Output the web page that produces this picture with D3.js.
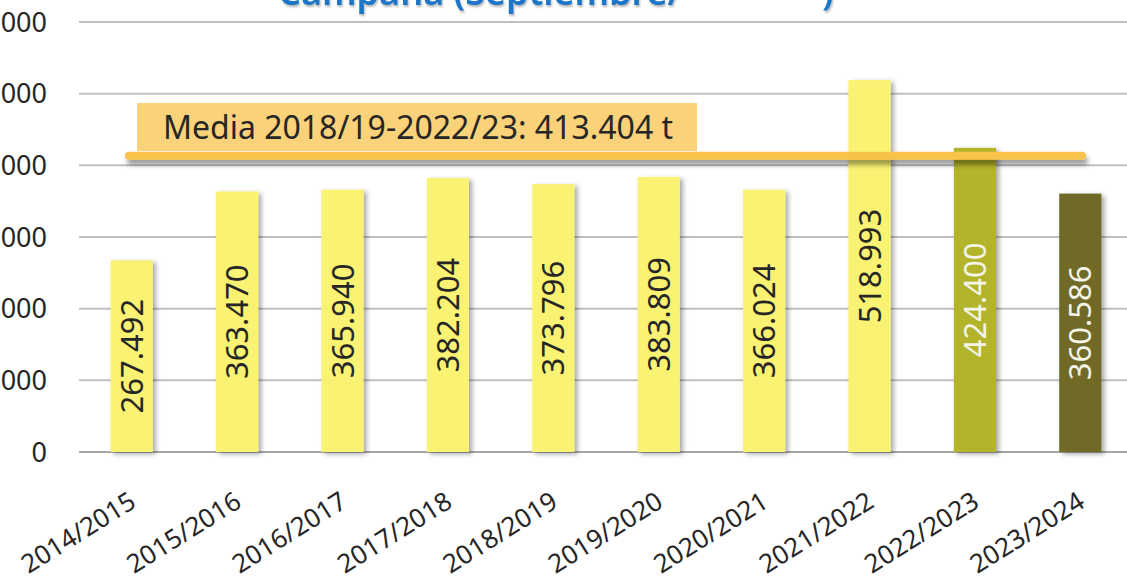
<!DOCTYPE html>
<meta charset="utf-8">
<style>
body { margin: 0; background: #fff; }
svg { display: block; font-family: "Noto Sans", sans-serif; }
</style>
<svg width="1127" height="580"></svg>
<script src="https://d3js.org/d3.v7.min.js"></script>
<script>

// datos de la campaña
var campanas = ["2014/2015", "2015/2016", "2016/2017", "2017/2018", "2018/2019",
                "2019/2020", "2020/2021", "2021/2022", "2022/2023", "2023/2024"];
var produccion = [267492, 363470, 365940, 382204, 373796, 383809, 366024, 518993, 424400, 360586];
var yTicks = [0, 100000, 200000, 300000, 400000, 500000, 600000];
var media = 413404;
var mediaTexto = "Media 2018/19-2022/23: 413.404 t";
var titulo = ["Campaña (Septiembre/", ")"];

var svg = d3.select("svg");

var es = d3.formatLocale({decimal: ",", thousands: ".", grouping: [3], currency: ["", " €"]});
var fmt = es.format(",d");

var x = d3.scaleBand()
    .domain(campanas)
    .range([79, 1133])
    .paddingInner(0.6)
    .paddingOuter(0.3);

var y = d3.scaleLinear()
    .domain([0, 600000])
    .range([452, 22]);

// colores: amarillo para campañas cerradas, verdes para las dos últimas
var color = d3.scaleOrdinal()
    .domain(campanas)
    .range(campanas.map(function(d, i) {
      return i === 8 ? "#b3b42b" : i === 9 ? "#6f6b25" : "#faf273";
    }));

var defs = svg.append("defs");
var sh = defs.append("filter").attr("id", "sombra")
    .attr("x", "-30%").attr("y", "-10%").attr("width", "170%").attr("height", "130%");
sh.append("feDropShadow").attr("dx", 3).attr("dy", 2).attr("stdDeviation", 2.5)
    .attr("flood-color", "#000").attr("flood-opacity", 0.35);

// la línea no tiene alto, así que la región del filtro va en coordenadas de usuario
var sh2 = defs.append("filter").attr("id", "sombraLinea")
    .attr("filterUnits", "userSpaceOnUse")
    .attr("x", 100).attr("y", 130).attr("width", 1020).attr("height", 60);
sh2.append("feDropShadow").attr("dx", 2).attr("dy", 5).attr("stdDeviation", 2.5)
    .attr("flood-color", "#000").attr("flood-opacity", 0.4);

var shT = defs.append("filter").attr("id", "sombraTexto")
    .attr("x", "-5%").attr("y", "-50%").attr("width", "110%").attr("height", "200%");
shT.append("feDropShadow").attr("dx", 1).attr("dy", 2).attr("stdDeviation", 1.2)
    .attr("flood-color", "#000").attr("flood-opacity", 0.3);

// título (cortado por arriba)
var t = svg.append("text")
    .attr("x", 278)
    .attr("y", 5)
    .attr("font-size", 36)
    .attr("font-weight", 600)
    .attr("fill", "#1b75c6")
    .attr("filter", "url(#sombraTexto)");
t.append("tspan").text(titulo[0]);
t.append("tspan").attr("x", 822).text(titulo[1]);

// rejilla
svg.append("g")
  .selectAll("line")
  .data(yTicks)
  .enter().append("line")
    .attr("x1", 79)
    .attr("x2", 1127)
    .attr("y1", function(d) { return y(d); })
    .attr("y2", function(d) { return y(d); })
    .attr("stroke", function(d) { return d === 0 ? "#a6a6a6" : "#bfbfbf"; })
    .attr("stroke-width", 2);

// etiquetas eje Y
svg.append("g")
  .selectAll("text")
  .data(yTicks)
  .enter().append("text")
    .attr("x", 47)
    .attr("y", function(d) { return y(d); })
    .attr("dy", "0.36em")
    .attr("text-anchor", "end")
    .attr("font-size", 27)
    .attr("fill", "#262626")
    .text(function(d) { return fmt(d); });

// barras
svg.append("g")
  .selectAll("rect")
  .data(campanas)
  .enter().append("rect")
    .attr("x", function(d) { return x(d); })
    .attr("y", function(d, i) { return y(produccion[i]); })
    .attr("width", x.bandwidth())
    .attr("height", function(d, i) { return y(0) - y(produccion[i]); })
    .attr("fill", color)
    .attr("filter", "url(#sombra)");

// línea de la media
svg.append("line")
    .attr("x1", 129)
    .attr("x2", 1082)
    .attr("y1", y(media))
    .attr("y2", y(media))
    .attr("stroke", "#f9c24a")
    .attr("stroke-width", 8)
    .attr("stroke-linecap", "round")
    .attr("filter", "url(#sombraLinea)");

// caja con el texto de la media
svg.append("rect")
    .attr("x", 137)
    .attr("y", 103)
    .attr("width", 560)
    .attr("height", 48)
    .attr("fill", "#f9d27a");

svg.append("text")
    .attr("x", 418)
    .attr("y", 127)
    .attr("dy", "0.36em")
    .attr("text-anchor", "middle")
    .attr("font-size", 32)
    .attr("fill", "#262626")
    .text(mediaTexto);

// valores dentro de las barras
svg.append("g")
  .selectAll("text")
  .data(campanas)
  .enter().append("text")
    .attr("transform", function(d, i) {
      var cx = x(d) + x.bandwidth() / 2,
          cy = (y(produccion[i]) + y(0)) / 2;
      return "translate(" + cx + "," + cy + ") rotate(-90)";
    })
    .attr("dy", "0.36em")
    .attr("text-anchor", "middle")
    .attr("font-size", 31)
    .attr("fill", function(d, i) { return i >= 8 ? "#f4f4ea" : "#262626"; })
    .text(function(d, i) { return fmt(produccion[i]); });

// etiquetas eje X
svg.append("g")
  .selectAll("text")
  .data(campanas)
  .enter().append("text")
    .attr("transform", function(d) {
      return "translate(" + (x(d) + x.bandwidth() / 2 + 6) + ",506) rotate(-32)";
    })
    .attr("text-anchor", "end")
    .attr("font-size", 26)
    .attr("fill", "#262626")
    .text(function(d) { return d; });

</script>
